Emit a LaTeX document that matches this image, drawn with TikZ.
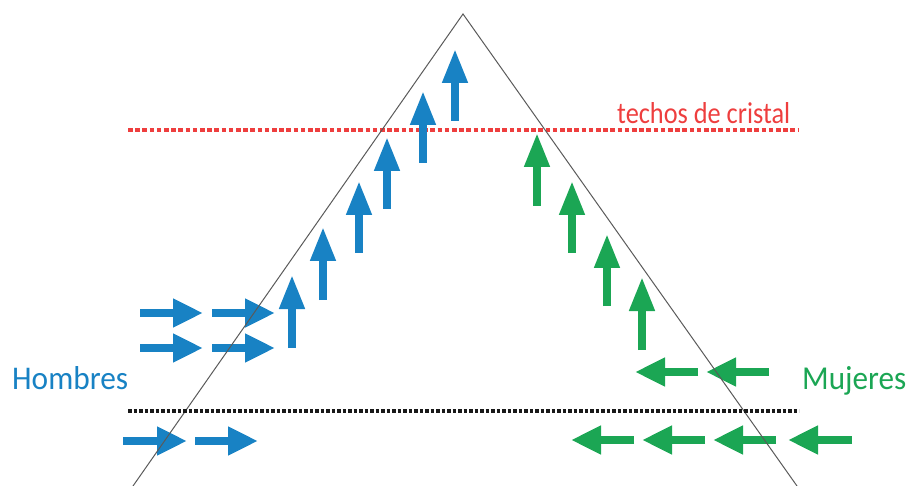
\documentclass[tikz,border=0pt]{standalone}
\usepackage{fontspec}
\setmainfont{Carlito}
\usetikzlibrary{arrows.meta}
\definecolor{ablue}{RGB}{24,130,196}
\definecolor{agreen}{RGB}{27,166,84}
\definecolor{ared}{RGB}{238,62,62}
\definecolor{tline}{RGB}{90,90,90}
\begin{document}
\begin{tikzpicture}[x=1pt,y=-1pt,
  uparrow/.style={line width=7.5pt,-{Triangle[width=24pt,length=34pt]}},
  sidearrow/.style={line width=7.5pt,-{Triangle[width=27pt,length=30pt]}},
  reddots/.style={draw=ared,line width=4pt,dash pattern=on 4.6pt off 2.6pt},
  blackdots/.style={draw=black!90,line width=3.6pt,dash pattern=on 3.5pt off 2pt},
  label/.style={anchor=base west,inner sep=0pt}]
\useasboundingbox (0,0) rectangle (907,486);
% glass ceiling line
\coordinate (rl) at (128,130);
\coordinate (rr) at (798,130);
\draw[reddots] (rl) -- (rr);
% blue up arrows
\foreach \x/\b/\t in {292/348/275,323/300/227,359/253/181,387/209/137,423/163/91,455/121/49}
  \draw[uparrow,ablue] (\x,\b) -- (\x,\t);
% green up arrows
\foreach \x/\b/\t in {537/206/133,572/253/181,607/306/234,642/350/277}
  \draw[uparrow,agreen] (\x,\b) -- (\x,\t);
% blue right arrows
\foreach \a/\c/\y in {140/203/313,212/275/313,140/203/348,212/275/348,123/187/441,195/258/441}
  \draw[sidearrow,ablue] (\a,\y) -- (\c,\y);
% green left arrows
\foreach \a/\c/\y in {698/635/372,769/706/372,634/571/440,705/642/440,776/713/440,852/788/440}
  \draw[sidearrow,agreen] (\a,\y) -- (\c,\y);
% triangle
\coordinate (tl) at (133,486);
\coordinate (ta) at (463,14);
\coordinate (tr) at (797,486);
\draw[tline,line width=1pt,line join=miter] (tl) -- (ta) -- (tr);
% floor line
\coordinate (bl) at (128,411);
\coordinate (br) at (799,411);
\draw[blackdots] (bl) -- (br);
% labels
\node[label,ared] (techos) at (617,124) {\resizebox{173pt}{21pt}{techos de cristal}};
\node[label,ablue] (hombres) at (12,389) {\resizebox{116pt}{23pt}{Hombres}};
\node[label,agreen] (mujeres) at (802,389) {\resizebox{104pt}{23pt}{Mujeres}};
\end{tikzpicture}
\end{document}
